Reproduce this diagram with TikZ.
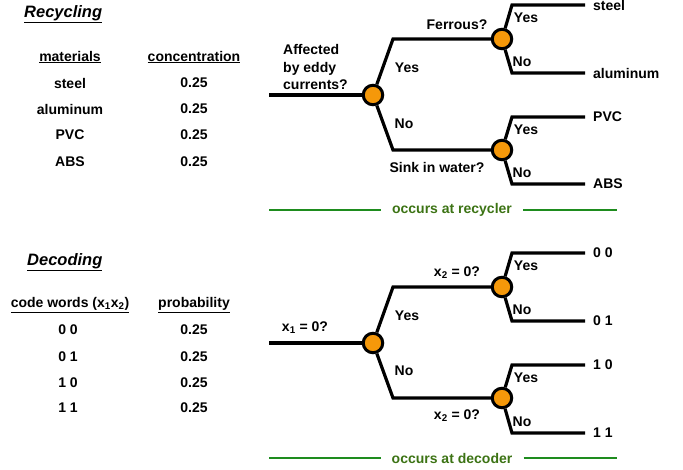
\documentclass[tikz,border=0pt]{standalone}
\usepackage{fontspec}
\setmainfont{Liberation Sans}
\definecolor{dot}{RGB}{245,152,10}
\definecolor{grn}{RGB}{30,140,30}
\definecolor{grntxt}{RGB}{60,115,20}
\begin{document}
\begin{tikzpicture}[x=1pt,y=-1pt,
  every node/.style={font=\fontsize{14}{17.5}\selectfont\bfseries, inner sep=0pt},
  br/.style={line width=3.2pt, line join=miter},
  dec/.style={circle, draw=black, line width=3pt, fill=dot, minimum size=19.5pt},
  gline/.style={line width=2.2pt, draw=grn},
  gtxt/.style={text=grntxt},
  lbl/.style={anchor=west}]
\useasboundingbox (0,0) rectangle (683,470);

% ---------- Recycling table ----------
\node[anchor=west, font=\fontsize{16.5}{19}\selectfont\bfseries\itshape] (t1) at (24,14) {\underline{Recycling}};
\node (h1) at (70,57) {\underline{materials}};
\node (h2) at (194,57) {\underline{concentration}};
\node (m1) at (70,83) {steel};
\node (m2) at (70,109) {aluminum};
\node (m3) at (70,135) {PVC};
\node (m4) at (70,162) {ABS};
\node (p1) at (194,83) {0.25};
\node (p2) at (194,109) {0.25};
\node (p3) at (194,135) {0.25};
\node (p4) at (194,162) {0.25};

% ---------- Recycling tree ----------
\node[dec] (c1) at (373,95) {};
\node[dec] (c2) at (502,39) {};
\node[dec] (c3) at (502,150) {};
\coordinate (r1) at (269,95);
\coordinate (b1) at (393,39);
\coordinate (b2) at (393,150);
\coordinate (u1) at (512,5);
\coordinate (u2) at (512,73);
\coordinate (u3) at (512,117);
\coordinate (u4) at (512,184);
\node[lbl] (e1) at (593,5) {steel};
\node[lbl] (e2) at (593,73) {aluminum};
\node[lbl] (e3) at (593,117) {PVC};
\node[lbl] (e4) at (593,184) {ABS};
\draw[br] (r1) -- (c1);
\draw[br] (c1) -- (b1) -- (c2);
\draw[br] (c1) -- (b2) -- (c3);
\draw[br] (c2) -- (u1) -- ([xshift=-8pt]e1.west);
\draw[br] (c2) -- (u2) -- ([xshift=-8pt]e2.west);
\draw[br] (c3) -- (u3) -- ([xshift=-8pt]e3.west);
\draw[br] (c3) -- (u4) -- ([xshift=-8pt]e4.west);
\node[anchor=west, align=left] (q1) at (283,67) {Affected\\by eddy\\currents?};
\node (y1) at (407,68) {Yes};
\node (n1) at (404,124) {No};
\node (q2) at (457,25) {Ferrous?};
\node (q3) at (437,167) {Sink in water?};
\node (y2) at (526,18) {Yes};
\node (n2) at (522,62) {No};
\node (y3) at (526,130) {Yes};
\node (n3) at (522,173) {No};
% green bar
\node[gtxt] (g1) at (452,210) {occurs at recycler};
\coordinate (g1a) at (269,210);
\coordinate (g1b) at (617,210);
\draw[gline] (g1a) -- ([xshift=-11pt]g1.west);
\draw[gline] ([xshift=11pt]g1.east) -- (g1b);

% ---------- Decoding table ----------
\node[anchor=west, font=\fontsize{16.5}{19}\selectfont\bfseries\itshape] (t2) at (27,262) {\underline{Decoding}};
\node (h3) at (70,305) {\underline{code words (x\textsubscript{1}x\textsubscript{2})}};
\node (h4) at (194,305) {\underline{probability}};
\node (w1) at (68,330) {0 0};
\node (w2) at (68,357) {0 1};
\node (w3) at (68,383) {1 0};
\node (w4) at (68,408) {1 1};
\node (s1) at (194,330) {0.25};
\node (s2) at (194,357) {0.25};
\node (s3) at (194,383) {0.25};
\node (s4) at (194,408) {0.25};

% ---------- Decoding tree ----------
\node[dec] (d1) at (373,343) {};
\node[dec] (d2) at (502,287) {};
\node[dec] (d3) at (502,398) {};
\coordinate (r2) at (269,343);
\coordinate (k1) at (393,287);
\coordinate (k2) at (393,398);
\coordinate (v1) at (512,253);
\coordinate (v2) at (512,321);
\coordinate (v3) at (512,365);
\coordinate (v4) at (512,433);
\node[lbl] (f1) at (593,253) {0 0};
\node[lbl] (f2) at (593,321) {0 1};
\node[lbl] (f3) at (593,365) {1 0};
\node[lbl] (f4) at (593,433) {1 1};
\draw[br] (r2) -- (d1);
\draw[br] (d1) -- (k1) -- (d2);
\draw[br] (d1) -- (k2) -- (d3);
\draw[br] (d2) -- (v1) -- ([xshift=-8pt]f1.west);
\draw[br] (d2) -- (v2) -- ([xshift=-8pt]f2.west);
\draw[br] (d3) -- (v3) -- ([xshift=-8pt]f3.west);
\draw[br] (d3) -- (v4) -- ([xshift=-8pt]f4.west);
\node (q4) at (305,328) {x\textsubscript{1} = 0?};
\node (y4) at (407,316) {Yes};
\node (n4) at (404,371) {No};
\node (q5) at (457,273) {x\textsubscript{2} = 0?};
\node (q6) at (457,416) {x\textsubscript{2} = 0?};
\node (y5) at (526,266) {Yes};
\node (n5) at (522,310) {No};
\node (y6) at (526,378) {Yes};
\node (n6) at (522,422) {No};
\node[gtxt] (g2) at (452,458) {occurs at decoder};
\coordinate (g2a) at (269,458);
\coordinate (g2b) at (617,458);
\draw[gline] (g2a) -- ([xshift=-11pt]g2.west);
\draw[gline] ([xshift=11pt]g2.east) -- (g2b);
\end{tikzpicture}
\end{document}
